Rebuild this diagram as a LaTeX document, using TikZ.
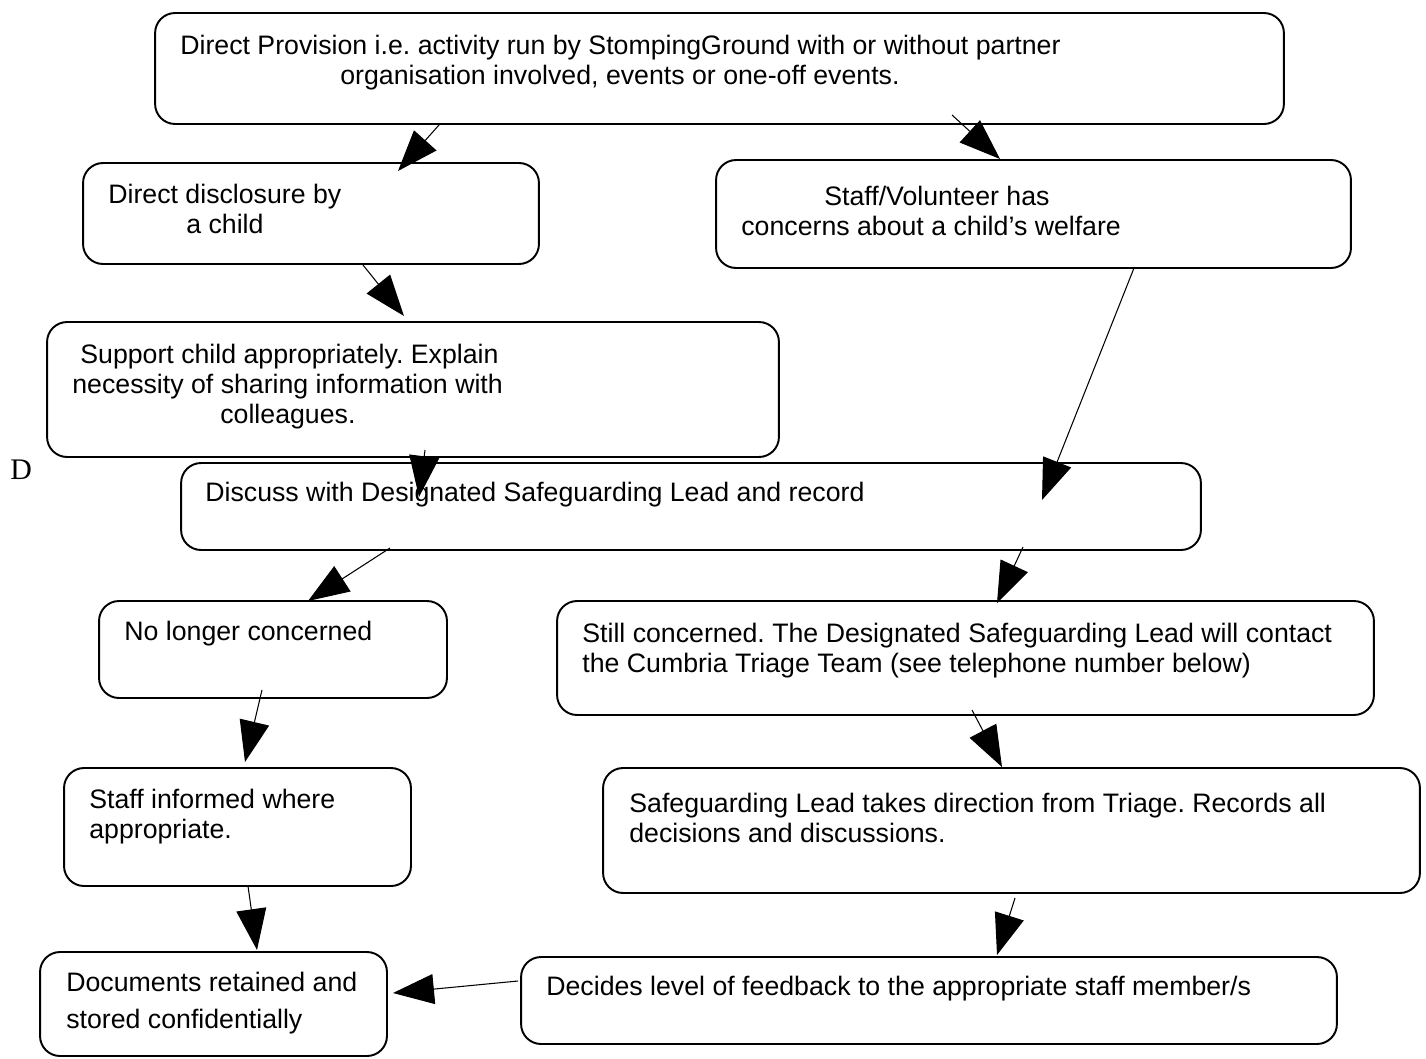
\documentclass[tikz,border=0pt]{standalone}
\usepackage{fontspec}
\setmainfont{Liberation Sans}
\newfontfamily\serifD{Liberation Serif}
\usetikzlibrary{arrows.meta, calc}
\frenchspacing

\tikzset{
  box/.style={draw, line width=1.1pt, rounded corners=0.4cm, inner sep=0pt},
  txt/.style={anchor=base west, inner sep=0pt, font=\fontsize{15.2}{18}\selectfont},
  arr/.style={line width=0.6pt, -{Triangle[length=0.82cm, width=0.6cm]}},
}

\begin{document}
\begin{tikzpicture}[x=0.02cm, y=-0.02cm]
  \useasboundingbox (0,0) rectangle (1426,1058);
  % boxes
  \node[box, minimum width=22.58cm, minimum height=2.22cm] (prov) at (719.5,68.5) {};
  \node[box, minimum width=9.12cm, minimum height=2.02cm] (disc) at (311,213.5) {};
  \node[box, minimum width=12.7cm, minimum height=2.16cm] (staff) at (1033.5,214) {};
  \node[box, minimum width=14.64cm, minimum height=2.7cm] (support) at (413,389.5) {};
  \node[box, minimum width=20.4cm, minimum height=1.74cm] (discuss) at (691,506.5) {};
  \node[box, minimum width=6.96cm, minimum height=1.94cm] (nolonger) at (273,649.5) {};
  \node[box, minimum width=16.34cm, minimum height=2.28cm] (still) at (965.5,658) {};
  \node[box, minimum width=6.94cm, minimum height=2.36cm] (informed) at (237.5,827) {};
  \node[box, minimum width=16.34cm, minimum height=2.5cm] (lead) at (1011.5,830.5) {};
  \node[box, minimum width=6.94cm, minimum height=2.08cm] (docs) at (213.5,1004) {};
  \node[box, minimum width=16.32cm, minimum height=1.74cm] (decides) at (929,1000.5) {};
  % texts
  \node[txt] (provA) at (180,54) {Direct Provision i.e. activity run by StompingGround with or without partner};
  \node[txt] (provB) at (340,84) {organisation involved, events or one-off events.};
  \node[txt] (discA) at (108,203) {Direct disclosure by};
  \node[txt] (discB) at (186,233) {a child};
  \node[txt] (staffA) at (824,205) {Staff/Volunteer has};
  \node[txt] (staffB) at (741,235) {concerns about a child’s welfare};
  \node[txt] (supportA) at (80,363) {Support child appropriately. Explain};
  \node[txt] (supportB) at (72,393) {necessity of sharing information with};
  \node[txt] (supportC) at (220,423) {colleagues.};
  \node[txt, font=\serifD\fontsize{17}{20}\selectfont] (dee) at (10,479) {D};
  \node[txt] (discussA) at (205,501) {Discuss with Designated Safeguarding Lead and record};
  \node[txt] (nolongerA) at (124,640) {No longer concerned};
  \node[txt] (stillA) at (582,642) {Still concerned. The Designated Safeguarding Lead will contact};
  \node[txt] (stillB) at (582,672) {the Cumbria Triage Team (see telephone number below)};
  \node[txt] (informedA) at (89,808) {Staff informed where};
  \node[txt] (informedB) at (89,838) {appropriate.};
  \node[txt] (leadA) at (629,812) {Safeguarding Lead takes direction from Triage. Records all};
  \node[txt] (leadB) at (629,842) {decisions and discussions.};
  \node[txt] (docsA) at (66,991) {Documents retained and};
  \node[txt] (docsB) at (66,1028) {stored confidentially};
  \node[txt] (decidesA) at (546,995) {Decides level of feedback to the appropriate staff member/s};
  % arrow ends
  \coordinate (p1) at (439,125);   \coordinate (q1) at (398,171);
  \coordinate (p2) at (952,115);   \coordinate (q2) at (1000,159);
  \coordinate (p3) at (363,265);   \coordinate (q3) at (404,316);
  \coordinate (p4) at (1134,268);  \coordinate (q4) at (1042,500);
  \coordinate (p5) at (425,450);   \coordinate (q5) at (419,497);
  \coordinate (p6) at (390,548);   \coordinate (q6) at (308,601);
  \coordinate (p7) at (1023,547);  \coordinate (q7) at (997,603);
  \coordinate (p8) at (262,690);   \coordinate (q8) at (245,762);
  \coordinate (p9) at (972,710);   \coordinate (q9) at (1002,767);
  \coordinate (p10) at (248,886);  \coordinate (q10) at (257,950);
  \coordinate (p11) at (1015,898); \coordinate (q11) at (997,955);
  \coordinate (p12) at (518,981);  \coordinate (q12) at (393,993);
  % arrows
  \foreach \i in {1,...,12}
    \draw[arr] (p\i) -- (q\i);
\end{tikzpicture}
\end{document}
